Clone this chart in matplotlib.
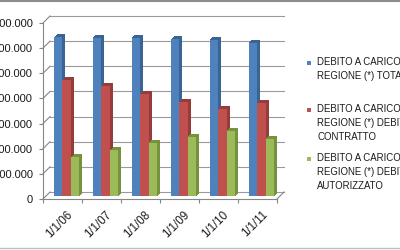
import matplotlib
matplotlib.use('Agg')
import matplotlib.pyplot as plt
from matplotlib import transforms
from matplotlib.lines import Line2D
from matplotlib.patches import Rectangle
import numpy as np

plt.rcParams['font.family'] = ['Liberation Sans', 'DejaVu Sans']

# ---- data ----
categories = ['1/1/06', '1/1/07', '1/1/08', '1/1/09', '1/1/10', '1/1/11']
totale = [6320000, 6300000, 6300000, 6240000, 6210000, 6100000]
contratto = [4630000, 4360000, 4060000, 3740000, 3460000, 3700000]
autorizzato = [1550000, 1820000, 2110000, 2360000, 2600000, 2270000]
series_labels = ['DEBITO A CARICO\nREGIONE (*) TOTALE',
                 'DEBITO A CARICO\nREGIONE (*) DEBITO\nCONTRATTO',
                 'DEBITO A CARICO\nREGIONE (*) DEBITO\nAUTORIZZATO']
y_ticks = [0, 1000000, 2000000, 3000000, 4000000, 5000000, 6000000, 7000000]
y_tick_labels = ['0', '1.000.000', '2.000.000', '3.000.000', '4.000.000',
                 '5.000.000', '6.000.000', '7.000.000']

colors = ['#4F81BD', '#C0504D', '#9BBB59']
side_colors = ['#3A6494', '#963C3A', '#76923C']
axis_color = '#868686'
grid_color = '#9a9a9a'
text_color = '#1a1a1a'

W, H, DPI = 400, 250, 100
fig = plt.figure(figsize=(W / DPI, H / DPI), dpi=DPI)
ax = fig.add_axes([43 / W, 51 / H, 234 / W, 176 / H])
ax.set_xlim(-0.5, len(categories) - 0.5)
ax.set_ylim(y_ticks[0], y_ticks[-1])
ax.patch.set_visible(False)
for name, sp in ax.spines.items():
    if name in ('left', 'bottom'):
        sp.set_color(axis_color)
        sp.set_linewidth(0.8)
    else:
        sp.set_visible(False)

# y axis
ax.set_yticks(y_ticks)
ax.set_yticklabels(y_tick_labels)
ax.tick_params(axis='y', length=3, width=0.8, color=axis_color, pad=4.3,
               labelsize=8, labelcolor=text_color)

# x axis
x = np.arange(len(categories))
ax.set_xticks(x)
ax.set_xticklabels(categories, rotation=45, ha='right', va='top',
                   rotation_mode='anchor')
ax.tick_params(axis='x', which='major', length=0, pad=7, labelsize=8.3,
               labelcolor=text_color)
ax.set_xticks(np.arange(len(categories) + 1) - 0.5, minor=True)
ax.tick_params(axis='x', which='minor', length=3, width=0.8, color=axis_color)
for lbl in ax.get_xticklabels():
    lbl.set_transform(lbl.get_transform() + transforms.Affine2D().translate(4, 0))

# back wall gridlines (3D look)
DX, DY = 7, 7
back = transforms.offset_copy(ax.transData, fig=fig, x=DX, y=DY, units='dots')
for t in y_ticks:
    ax.plot([x[0] - 0.5, x[-1] + 0.5], [t, t], transform=back,
            color=grid_color, lw=0.8, clip_on=False, zorder=1)

fig.canvas.draw()
ident = transforms.IdentityTransform()
for t in y_ticks:
    p0 = ax.transData.transform((x[0] - 0.5, t))
    fig.add_artist(Line2D([p0[0], p0[0] + DX], [p0[1], p0[1] + DY],
                          transform=ident, color=axis_color, lw=0.8))
p1 = ax.transData.transform((x[-1] + 0.5, 0))
fig.add_artist(Line2D([p1[0], p1[0] + DX], [p1[1], p1[1] + DY],
                      transform=ident, color=axis_color, lw=0.8))

# bars with depth
w = 0.222
BX, BY, DEPTH = 4, 3, 3
series = [totale, contratto, autorizzato]
front = transforms.offset_copy(ax.transData, fig=fig, x=BX, y=BY, units='dots')
for i, (vals, c, sc) in enumerate(zip(series, colors, side_colors)):
    pos = x + (i - 1) * w
    for k in np.arange(0.5, DEPTH + 0.01, 0.5):
        tr = transforms.offset_copy(ax.transData, fig=fig, x=BX + k, y=BY + k, units='dots')
        ax.bar(pos, vals, width=w, color=sc, transform=tr, zorder=2,
               linewidth=0, clip_on=False)
for i, (vals, c) in enumerate(zip(series, colors)):
    pos = x + (i - 1) * w
    ax.bar(pos, vals, width=w, color=c, transform=front, zorder=3,
           linewidth=0, clip_on=False)
ax.set_xlim(-0.5, len(categories) - 0.5)
ax.set_ylim(y_ticks[0], y_ticks[-1])

# legend (manual, Excel style)
leg_tops = [57, 104, 153]
for lab, c, ty in zip(series_labels, colors, leg_tops):
    fig.add_artist(Rectangle((307 / W, 1 - (ty + 7.5) / H), 4 / W, 4 / H,
                             transform=fig.transFigure, color=c, lw=0))
    fig.text(317 / W, 1 - ty / H, lab, ha='left', va='top', fontsize=6.9,
             color=text_color, linespacing=1.5)

# chart frame lines
fig.add_artist(Line2D([0, 1], [1 - 1 / H, 1 - 1 / H], transform=fig.transFigure,
                      color='#8c8c8c', lw=1.5))
fig.add_artist(Line2D([0, 1], [2 / H, 2 / H], transform=fig.transFigure,
                      color='#c0c0c0', lw=1.0))

fig.savefig('out.png', dpi=DPI)
